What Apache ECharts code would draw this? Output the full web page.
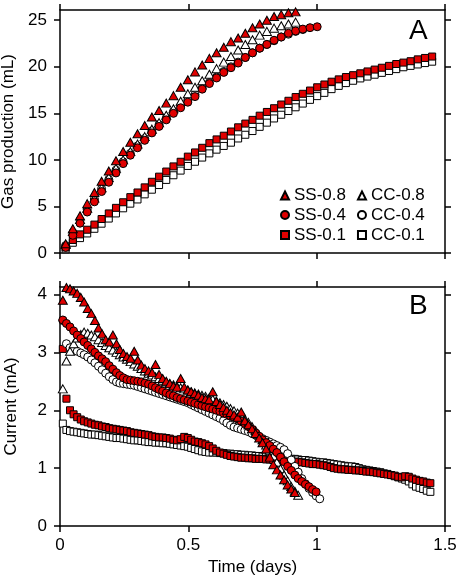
<!DOCTYPE html>
<html><head><meta charset="utf-8">
<script src="https://cdn.jsdelivr.net/npm/echarts@6/dist/echarts.min.js"></script>
<style>html,body{margin:0;padding:0;background:#fff}#c{width:460px;height:580px}</style>
</head><body><div id="c"></div>
<script>
// ---- Panel A: gas production (mL) vs time (days)
const tA = [0.022,0.050,0.078,0.106,0.134,0.162,0.190,0.218,0.246,0.274,0.302,0.330,0.358,0.386,0.414,0.442,0.470,0.498,0.526,0.554,0.582,0.610,0.638,0.666,0.694,0.722,0.750,0.778,0.806,0.834,0.862,0.890,0.918,0.946,0.974,1.002,1.030,1.058,1.086,1.114,1.142,1.170,1.198,1.226,1.254,1.282,1.310,1.338,1.366,1.394,1.422,1.450];
const gasSS08 = [1.0,2.6,4.0,5.3,6.5,7.7,8.8,9.9,10.9,11.9,12.8,13.7,14.6,15.3,16.1,16.9,17.8,18.6,19.45,20.2,20.9,21.5,22.1,22.7,23.1,23.6,24.2,24.6,25.0,25.4,25.6,25.8,25.9];
const gasCC08 = [0.9,2.3,3.6,4.8,5.9,7.0,8.1,9.1,10.0,10.9,11.7,12.5,13.3,14.0,14.8,15.5,16.3,17.1,17.8,18.5,19.2,19.8,20.5,21.1,21.8,22.4,22.9,23.4,23.8,24.15,24.4,24.6,24.8];
const gasSS04 = [0.6,1.9,3.2,4.4,5.5,6.6,7.6,8.6,9.6,10.5,11.3,12.1,12.9,13.6,14.3,15.0,15.6,16.2,16.8,17.6,18.2,18.8,19.4,19.9,20.4,21.0,21.5,22.0,22.4,22.85,23.2,23.6,23.85,24.05,24.2,24.3];
const gasCC04 = [0.8,2.2,3.5,4.7,5.8,6.9,7.9,8.9,9.8,10.7,11.5,12.3,13.1,13.8,14.5,15.2,15.8,16.4,17.0,17.7,18.3,18.9,19.5,20.0,20.5,21.0,21.5,22.0,22.4,22.8,23.2,23.5,23.8,24.0];
const gasSS01 = [0.6,1.4,2.0,2.5,3.05,3.65,4.25,4.85,5.45,6.0,6.5,7.05,7.65,8.2,8.75,9.3,9.8,10.35,10.8,11.3,11.8,12.2,12.6,13.05,13.5,13.9,14.3,14.75,15.15,15.55,15.95,16.35,16.75,17.1,17.45,17.8,18.1,18.4,18.65,18.9,19.1,19.3,19.5,19.7,19.9,20.1,20.3,20.45,20.6,20.8,20.95,21.1];
const gasCC01 = [0.4,1.1,1.6,2.1,2.6,3.15,3.7,4.25,4.8,5.3,5.75,6.3,6.8,7.3,7.85,8.35,8.85,9.35,9.8,10.25,10.7,11.1,11.5,11.85,12.3,12.7,13.1,13.55,14.0,14.45,14.85,15.25,15.65,16.05,16.45,16.85,17.2,17.6,17.95,18.25,18.5,18.75,18.95,19.15,19.35,19.55,19.75,19.95,20.1,20.25,20.4,20.55];

// ---- Panel B: current (mA) vs time (days)
const tB = [0.011,0.025,0.039,0.053,0.067,0.081,0.094,0.108,0.122,0.136,0.150,0.164,0.178,0.192,0.206,0.220,0.233,0.247,0.261,0.275,0.289,0.303,0.317,0.331,0.345,0.359,0.372,0.386,0.400,0.414,0.428,0.442,0.456,0.470,0.484,0.498,0.511,0.525,0.539,0.553,0.567,0.581,0.595,0.609,0.623,0.637,0.650,0.664,0.678,0.692,0.706,0.720,0.734,0.748,0.762,0.776,0.789,0.803,0.817,0.831,0.845,0.859,0.873,0.887,0.901,0.915,0.928,0.942,0.956,0.970,0.984,0.998,1.012,1.026,1.040,1.054,1.067,1.081,1.095,1.109,1.123,1.137,1.151,1.165,1.179,1.193,1.206,1.220,1.234,1.248,1.262,1.276,1.290,1.304,1.318,1.332,1.345,1.359,1.373,1.387,1.401,1.415,1.429,1.443];
const curSS08 = [3.90,4.12,4.10,4.06,4.02,3.95,3.87,3.76,3.67,3.55,3.42,3.32,3.22,3.18,3.30,3.15,3.05,2.98,2.93,2.90,3.02,2.87,2.78,2.72,2.68,2.65,2.79,2.62,2.55,2.50,2.46,2.42,2.40,2.55,2.40,2.35,2.32,2.29,2.26,2.22,2.20,2.18,2.32,2.15,2.10,2.05,2.00,1.96,1.92,1.88,1.97,1.82,1.75,1.68,1.60,1.52,1.44,1.33,1.19,1.06,0.97,0.88,0.80,0.71,0.64,0.58];
const curCC08 = [2.37,2.85,3.02,3.15,3.25,3.31,3.35,3.33,3.30,3.27,3.22,3.17,3.12,3.08,3.04,3.00,2.96,2.92,2.88,2.84,2.80,2.76,2.72,2.68,2.64,2.61,2.58,2.55,2.52,2.49,2.46,2.44,2.41,2.39,2.37,2.35,2.32,2.30,2.28,2.26,2.24,2.21,2.19,2.16,2.13,2.10,2.07,2.03,1.99,1.95,1.90,1.85,1.79,1.72,1.65,1.57,1.49,1.40,1.31,1.21,1.10,0.99,0.88,0.78,0.68,0.60,0.53];
const curSS04 = [3.56,3.50,3.44,3.37,3.30,3.24,3.18,3.12,3.06,3.00,2.94,2.89,2.84,2.77,2.71,2.65,2.60,2.56,2.53,2.52,2.51,2.50,2.49,2.47,2.45,2.42,2.39,2.36,2.33,2.30,2.27,2.25,2.22,2.20,2.18,2.16,2.14,2.12,2.10,2.08,2.06,2.04,2.02,2.00,1.98,1.95,1.93,1.90,1.88,1.85,1.81,1.77,1.72,1.67,1.61,1.55,1.49,1.44,1.39,1.33,1.27,1.19,1.11,1.03,0.96,0.88,0.82,0.77,0.72,0.68,0.63,0.59];
const curCC04 = [3.55,3.15,3.08,3.05,3.02,2.99,2.96,2.92,2.87,2.82,2.76,2.70,2.64,2.58,2.53,2.49,2.47,2.46,2.45,2.44,2.43,2.41,2.39,2.37,2.35,2.33,2.31,2.29,2.27,2.25,2.23,2.21,2.19,2.17,2.15,2.13,2.10,2.07,2.04,2.01,1.98,1.95,1.92,1.89,1.86,1.82,1.78,1.74,1.71,1.69,1.67,1.65,1.63,1.60,1.57,1.54,1.51,1.48,1.45,1.42,1.39,1.36,1.32,1.25,1.14,1.03,0.93,0.82,0.73,0.65,0.58,0.52,0.47];
const curSS01 = [3.06,2.20,2.00,1.93,1.88,1.84,1.81,1.79,1.77,1.75,1.74,1.72,1.71,1.69,1.68,1.67,1.66,1.65,1.64,1.62,1.61,1.60,1.59,1.58,1.57,1.55,1.54,1.53,1.53,1.52,1.51,1.49,1.48,1.50,1.54,1.52,1.49,1.46,1.45,1.43,1.41,1.38,1.34,1.30,1.27,1.25,1.23,1.21,1.20,1.19,1.18,1.18,1.17,1.17,1.16,1.16,1.16,1.15,1.15,1.14,1.14,1.13,1.13,1.12,1.12,1.11,1.11,1.10,1.09,1.08,1.07,1.07,1.06,1.05,1.04,1.02,1.00,0.99,0.98,0.98,0.97,0.97,0.96,0.96,0.95,0.94,0.94,0.93,0.92,0.91,0.90,0.89,0.88,0.87,0.85,0.84,0.86,0.85,0.82,0.80,0.78,0.77,0.75,0.74];
const curCC01 = [1.77,1.66,1.64,1.63,1.62,1.61,1.60,1.59,1.58,1.58,1.57,1.56,1.55,1.54,1.53,1.52,1.52,1.51,1.50,1.49,1.48,1.48,1.47,1.46,1.45,1.45,1.44,1.44,1.43,1.43,1.42,1.41,1.40,1.39,1.38,1.37,1.35,1.33,1.31,1.29,1.28,1.27,1.27,1.27,1.26,1.26,1.25,1.25,1.24,1.24,1.23,1.23,1.22,1.22,1.21,1.21,1.20,1.20,1.19,1.19,1.18,1.18,1.17,1.17,1.16,1.16,1.15,1.14,1.14,1.13,1.12,1.11,1.10,1.10,1.09,1.08,1.07,1.06,1.05,1.04,1.03,1.03,1.02,1.00,0.98,0.97,0.96,0.95,0.94,0.93,0.91,0.90,0.88,0.86,0.84,0.82,0.80,0.77,0.72,0.68,0.66,0.64,0.61,0.59];

const xTicks = [0, 0.5, 1, 1.5];
const yTicksA = [0, 5, 10, 15, 20, 25];
const yTicksB = [0, 1, 2, 3, 4];

const RED = '#e00000';
const FONT = '"Liberation Sans", Arial, Helvetica, sans-serif';
const pair = (t, v) => v.map((y, i) => [t[i], y]);

const line = { show: true, onZero: false, lineStyle: { color: '#000', width: 1.5 } };
const tick = (vals) => ({ show: true, inside: false, length: 6, customValues: vals, lineStyle: { color: '#000', width: 1.5 } });
const lbl = (show, vals) => ({ show: show, customValues: vals, color: '#000', fontSize: 17, fontFamily: FONT, margin: show ? 11 : 8 });

function xAx(g, pos, showLabel, name) {
  return { type: 'value', gridIndex: g, position: pos, min: 0, max: 1.5, interval: 0.5,
    axisLine: line, axisTick: tick(xTicks), axisLabel: lbl(showLabel, xTicks), splitLine: { show: false },
    name: name || '', nameLocation: 'middle', nameGap: 33,
    nameTextStyle: { color: '#000', fontSize: 17, fontFamily: FONT } };
}
function yAx(g, pos, max, ticks, showLabel, name) {
  return { type: 'value', gridIndex: g, position: pos, min: 0, max: max,
    axisLine: line, axisTick: tick(ticks), axisLabel: Object.assign(lbl(showLabel, ticks), { margin: 13 }), splitLine: { show: false },
    name: name || '', nameLocation: 'middle', nameGap: 40,
    nameTextStyle: { color: '#000', fontSize: 17, fontFamily: FONT } };
}

const styles = {
  'SS-0.8': { symbol: 'triangle', size: [9, 8], color: RED },
  'CC-0.8': { symbol: 'triangle', size: [9, 8], color: '#fff' },
  'SS-0.4': { symbol: 'circle', size: 8, color: RED },
  'CC-0.4': { symbol: 'circle', size: 8, color: '#fff' },
  'SS-0.1': { symbol: 'rect', size: 7, color: RED },
  'CC-0.1': { symbol: 'rect', size: 7, color: '#fff' }
};
function sc(name, xi, yi, data) {
  const s = styles[name];
  return { type: 'scatter', name: name, xAxisIndex: xi, yAxisIndex: yi, data: data,
    symbol: s.symbol, symbolSize: s.size, silent: true,
    itemStyle: { color: s.color, borderColor: '#000', borderWidth: 1, opacity: 1 } };
}

const legendBase = (names, top) => ({ data: names, left: 280, top: top, orient: 'horizontal',
  padding: 0, itemGap: 11, itemWidth: 8, itemHeight: 8, selectedMode: false,
  textStyle: { color: '#000', fontSize: 17, fontFamily: FONT } });

const option = {
  animation: false,
  backgroundColor: '#fff',
  title: [
    { text: 'A', left: 409, top: 17, padding: 0, textStyle: { fontSize: 28, fontWeight: 'normal', color: '#000', fontFamily: FONT } },
    { text: 'B', left: 409, top: 292, padding: 0, textStyle: { fontSize: 28, fontWeight: 'normal', color: '#000', fontFamily: FONT } }
  ],
  legend: [
    legendBase(['SS-0.8', 'CC-0.8'], 187),
    legendBase(['SS-0.4', 'CC-0.4'], 206.5),
    legendBase(['SS-0.1', 'CC-0.1'], 226.5)
  ],
  grid: [
    { left: 60, top: 10, width: 385, height: 243, containLabel: false, outerBoundsMode: 'none' },
    { left: 60, top: 287, width: 385, height: 239, containLabel: false, outerBoundsMode: 'none' }
  ],
  xAxis: [ xAx(0, 'bottom', false), xAx(0, 'top', false), xAx(1, 'bottom', true, 'Time (days)'), xAx(1, 'top', false) ],
  yAxis: [ yAx(0, 'left', 26.1, yTicksA, true, 'Gas production (mL)'), yAx(0, 'right', 26.1, yTicksA, false),
           yAx(1, 'left', 4.13, yTicksB, true, 'Current (mA)'), yAx(1, 'right', 4.13, yTicksB, false) ],
  series: [
    sc('CC-0.1', 0, 0, pair(tA, gasCC01)), sc('CC-0.4', 0, 0, pair(tA, gasCC04)), sc('CC-0.8', 0, 0, pair(tA, gasCC08)),
    sc('SS-0.1', 0, 0, pair(tA, gasSS01)), sc('SS-0.4', 0, 0, pair(tA, gasSS04)), sc('SS-0.8', 0, 0, pair(tA, gasSS08)),
    sc('CC-0.1', 2, 2, pair(tB, curCC01)), sc('SS-0.1', 2, 2, pair(tB, curSS01)),
    sc('CC-0.4', 2, 2, pair(tB, curCC04)), sc('CC-0.8', 2, 2, pair(tB, curCC08)),
    sc('SS-0.4', 2, 2, pair(tB, curSS04)), sc('SS-0.8', 2, 2, pair(tB, curSS08))
  ]
};
const chart = echarts.init(document.getElementById('c'), null, { renderer: 'canvas' });
chart.setOption(option);
</script></body></html>
